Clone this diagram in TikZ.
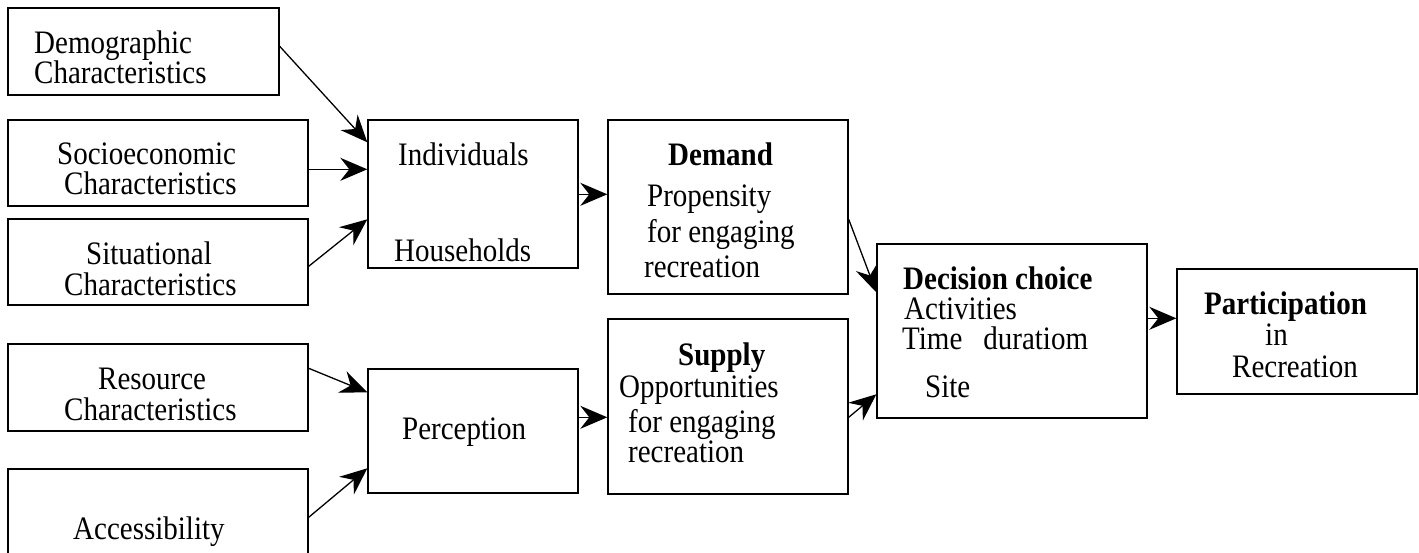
\documentclass[tikz,border=0pt]{standalone}
\usepackage{fontspec}
\usepackage{graphicx}
\setmainfont{Liberation Serif}
\usetikzlibrary{arrows.meta,calc}
\newcommand{\vs}[1]{\scalebox{1}[1.13]{#1}}
\begin{document}
\begin{tikzpicture}[x=1pt,y=1pt,
  box/.style={draw,line width=1.4pt,inner sep=0pt,rectangle},
  txt/.style={anchor=base west,inner sep=0pt,font=\fontsize{29}{31}\selectfont},
  btxt/.style={txt,font=\fontsize{29}{31}\selectfont\bfseries},
  conn/.style={line width=1.3pt,-{Stealth[length=27pt,width=23pt,inset=9pt]}}]
\useasboundingbox (0,0) rectangle (1419,-552);
% boxes
\node[box,minimum width=271pt,minimum height=87pt] (demo) at (143.5,-51.5) {};
\node[box,minimum width=300pt,minimum height=86pt] (socio) at (158,-163) {};
\node[box,minimum width=300pt,minimum height=86pt] (situ) at (158,-262) {};
\node[box,minimum width=300pt,minimum height=87pt] (res) at (158,-387.5) {};
\node[box,minimum width=300pt,minimum height=95pt] (acc) at (158,-516.5) {};
\node[box,minimum width=210pt,minimum height=148pt] (ind) at (473,-194) {};
\node[box,minimum width=210pt,minimum height=124pt] (perc) at (473,-431) {};
\node[box,minimum width=240pt,minimum height=174pt] (dem) at (728,-207) {};
\node[box,minimum width=240pt,minimum height=175pt] (sup) at (728,-406.5) {};
\node[box,minimum width=270pt,minimum height=174pt] (dec) at (1012,-331) {};
\node[box,minimum width=240pt,minimum height=125pt] (par) at (1297,-331.5) {};
% texts
\node[txt] (t1) at (34,-53) {\vs{Demographic}};
\node[txt] (t2) at (34,-83) {\vs{Characteristics}};
\node[txt] (t3) at (57,-164) {\vs{Socioeconomic}};
\node[txt] (t4) at (64,-194) {\vs{Characteristics}};
\node[txt] (t5) at (86,-264) {\vs{Situational}};
\node[txt] (t6) at (64,-295) {\vs{Characteristics}};
\node[txt] (t7) at (98,-389) {\vs{Resource}};
\node[txt] (t8) at (64,-420) {\vs{Characteristics}};
\node[txt] (t9) at (73,-539) {\vs{Accessibility}};
\node[txt] (t10) at (398,-165) {\vs{Individuals}};
\node[txt] (t11) at (394,-261) {\vs{Households}};
\node[txt] (t12) at (402,-439) {\vs{Perception}};
\node[btxt] (t13) at (668,-165) {\vs{Demand}};
\node[txt] (t14) at (647,-206) {\vs{Propensity}};
\node[txt] (t15) at (647,-242) {\vs{for engaging}};
\node[txt] (t16) at (644,-277) {\vs{recreation}};
\node[btxt] (t17) at (678,-365) {\vs{Supply}};
\node[txt] (t18) at (619,-397) {\vs{Opportunities}};
\node[txt] (t19) at (628,-432) {\vs{for engaging}};
\node[txt] (t20) at (628,-462) {\vs{recreation}};
\node[btxt] (t21) at (903,-289) {\vs{Decision choice}};
\node[txt] (t22) at (904,-319) {\vs{Activities}};
\node[txt] (t23) at (902,-349) {\vs{Time\hspace{21pt}duratiom}};
\node[txt] (t24) at (925,-397) {\vs{Site}};
\node[btxt] (t25) at (1204,-314) {\vs{Participation}};
\node[txt] (t26) at (1265,-345) {\vs{in}};
\node[txt] (t27) at (1232,-377) {\vs{Recreation}};
% connectors
\draw[conn] ($(demo.north east)+(0,-39)$) -- ($(ind.north west)+(0,-23)$);
\draw[conn] ($(socio.north east)+(0,-50)$) -- ($(ind.north west)+(0,-50)$);
\draw[conn] ($(situ.north east)+(0,-48)$) -- ($(ind.north west)+(0,-100)$);
\draw[conn] ($(res.north east)+(0,-25)$) -- ($(perc.north west)+(0,-24)$);
\draw[conn] ($(acc.north east)+(0,-49)$) -- ($(perc.north west)+(0,-100)$);
\draw[conn] ($(ind.north east)+(0,-75)$) -- ($(dem.north west)+(0,-75)$);
\draw[conn] ($(perc.north east)+(0,-49)$) -- ($(sup.north west)+(0,-99)$);
\draw[conn] ($(dem.north east)+(0,-100)$) -- ($(dec.north west)+(0,-49)$);
\draw[conn] ($(sup.north east)+(0,-99)$) -- ($(dec.north west)+(0,-151)$);
\draw[conn] ($(dec.north east)+(0,-75)$) -- ($(par.north west)+(0,-50)$);
\end{tikzpicture}
\end{document}
